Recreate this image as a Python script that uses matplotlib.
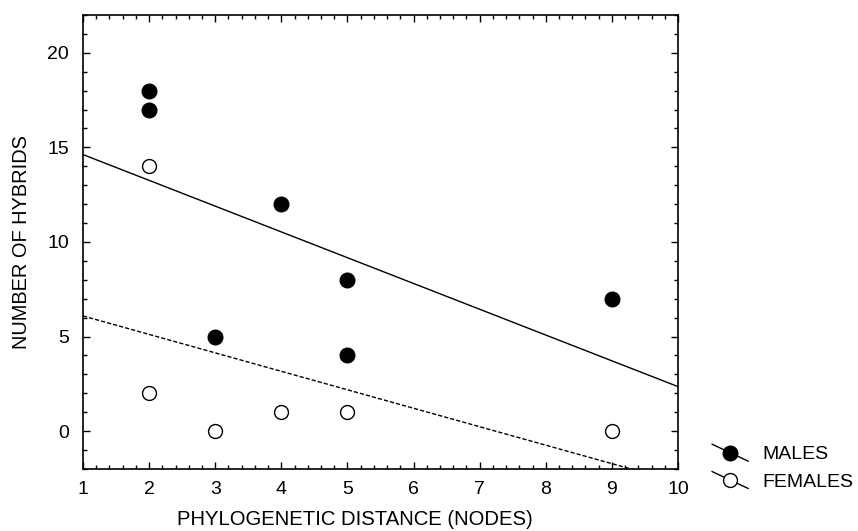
import numpy as np
import matplotlib
matplotlib.use("Agg")
import matplotlib.pyplot as plt
from matplotlib.legend_handler import HandlerBase
from matplotlib.lines import Line2D
from matplotlib.ticker import MultipleLocator

plt.rcParams['font.family'] = ['Liberation Sans', 'DejaVu Sans']

# Data
male_x = [2, 2, 3, 4, 5, 5, 9]
male_y = [18, 17, 5, 12, 8, 4, 7]
female_x = [2, 2, 3, 4, 5, 9]
female_y = [14, 2, 0, 1, 1, 0]


# legend handle: short slanted line through the marker
class SlantHandler(HandlerBase):
    def create_artists(self, legend, orig_handle, xdescent, ydescent,
                       width, height, fontsize, trans):
        yc = (height - ydescent) / 2
        x0, x1 = -xdescent, -xdescent + width
        line = Line2D([x0, x1], [yc + height * 0.62, yc - height * 0.62],
                      color='black', lw=1, transform=trans)
        mk = Line2D([(x0 + x1) / 2], [yc], marker='o', ls='none',
                    ms=orig_handle.get_markersize(),
                    mfc=orig_handle.get_markerfacecolor(),
                    mec='black', transform=trans)
        return [line, mk]


fig = plt.figure(figsize=(8.58, 5.31), dpi=100)
ax = fig.add_axes([0.0967, 0.1168, 0.6935, 0.855])

xs = np.array([1, 10])
mslope, mint = np.polyfit(male_x, male_y, 1)
fslope, fint = np.polyfit(female_x, female_y, 1)
ax.plot(xs, mint + mslope * xs, color='black', lw=1.0)
ax.plot(xs, fint + fslope * xs, color='black', lw=1.0, ls=(0, (3, 1.5)))

ax.plot(male_x, male_y, 'o', ms=10.5, mfc='black', mec='black', ls='none')
ax.plot(female_x, female_y, 'o', ms=10, mfc='white', mec='black', mew=1.0, ls='none')

ax.set_xlim(1, 10)
ax.set_ylim(-2, 22)
ax.xaxis.set_major_locator(MultipleLocator(1))
ax.xaxis.set_minor_locator(MultipleLocator(0.2))
ax.yaxis.set_major_locator(MultipleLocator(5))
ax.yaxis.set_minor_locator(MultipleLocator(1))
ax.set_yticks([0, 5, 10, 15, 20])
ax.tick_params(which='both', direction='in', top=True, right=True, labelsize=14)
ax.tick_params(axis='x', pad=9)
ax.tick_params(axis='y', pad=10)
ax.tick_params(which='major', length=5, width=1)
ax.tick_params(which='minor', length=3, width=1)
for s in ax.spines.values():
    s.set_linewidth(1.2)

ax.set_xlabel('PHYLOGENETIC DISTANCE (NODES)', fontsize=14.6, labelpad=10)
ax.xaxis.set_label_coords(0.457, -0.091)
ax.set_ylabel('NUMBER OF HYBRIDS', fontsize=14.4, labelpad=12)

hm = Line2D([], [], marker='o', ms=10.5, mfc='black', mec='black', color='black', lw=1)
hf = Line2D([], [], marker='o', ms=10, mfc='white', mec='black', color='black', lw=1)
fig.legend([hm, hf], ['MALES', 'FEMALES'], loc='center left',
           bbox_to_anchor=(0.830, 0.118), frameon=False, fontsize=14,
           handler_map={hm: SlantHandler(), hf: SlantHandler()},
           borderpad=0, borderaxespad=0,
           handlelength=1.85, handletextpad=0.72, labelspacing=0.5)

fig.savefig('out.png', dpi=100)
